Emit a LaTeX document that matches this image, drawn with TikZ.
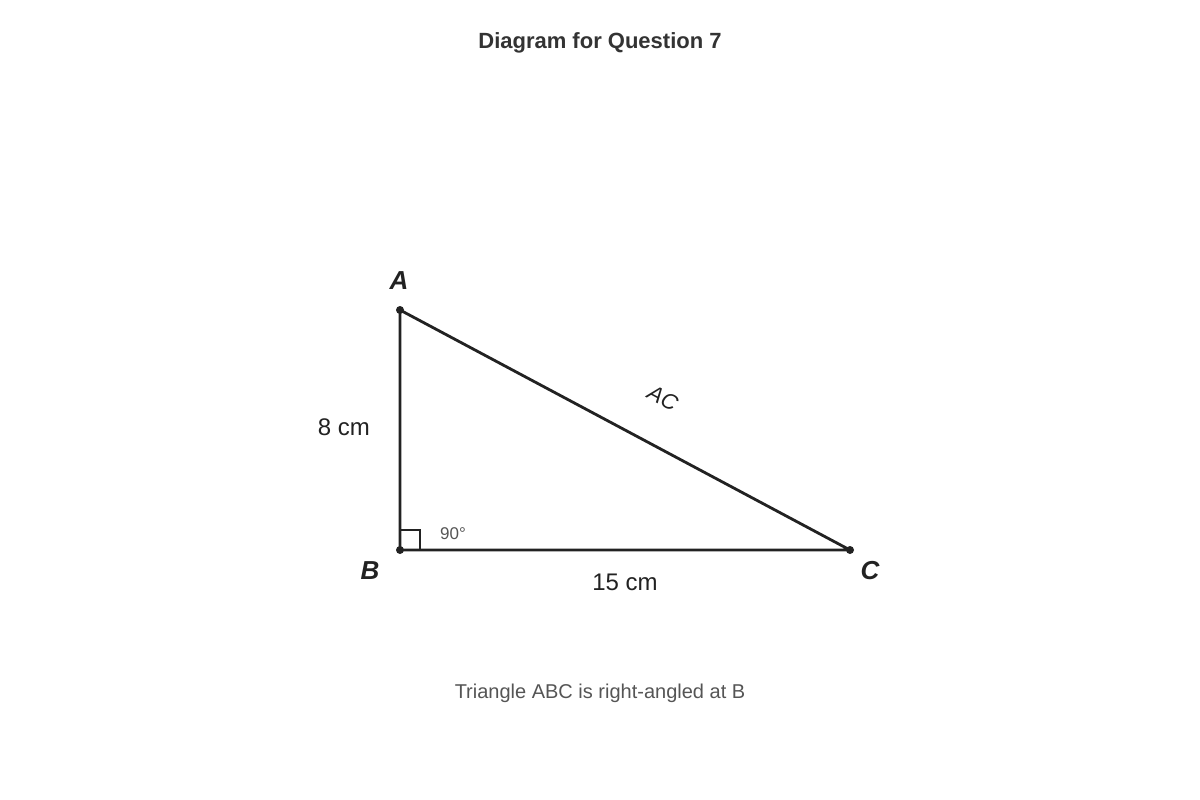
\documentclass[tikz,border=0pt]{standalone}
\usepackage{fontspec}
\setmainfont{Liberation Sans}
\definecolor{ink}{HTML}{222222}
\definecolor{titlec}{HTML}{333333}
\definecolor{greyc}{HTML}{555555}
\begin{document}
\begin{tikzpicture}[x=1pt,y=-1pt,
  edge/.style={draw=ink,line width=2.8pt},
  vtx/.style={circle,fill=ink,inner sep=0pt,minimum size=8pt},
  vlabel/.style={font=\fontsize{26}{30}\selectfont\bfseries\itshape,text=ink,inner sep=0pt},
  dimlabel/.style={font=\fontsize{24}{28}\selectfont,text=ink,inner sep=0pt},
  small/.style={font=\fontsize{17}{20}\selectfont,text=greyc,inner sep=0pt}]
\useasboundingbox[fill=white] (0,0) rectangle (1200,800);
\node[font=\fontsize{22}{26}\selectfont\bfseries,text=titlec,inner sep=0pt] (title) at (600,43) {Diagram for Question 7};
\coordinate (A) at (400,310);
\coordinate (B) at (400,550);
\coordinate (C) at (850,550);
\draw[edge,line join=round] (A) -- (B) -- (C) -- cycle;
\draw[draw=ink,line width=2pt] (400,530) -- (420,530) -- (420,550);
\node[vtx] (dA) at (A) {};
\node[vtx] (dB) at (B) {};
\node[vtx] (dC) at (C) {};
\node[vlabel] (lA) at (399,281) {A};
\node[vlabel] (lB) at (370,571) {B};
\node[vlabel] (lC) at (870,571) {C};
\node[dimlabel] (l8) at (344,427) {8 cm};
\node[dimlabel] (l15) at (625,582) {15 cm};
\node[small] (l90) at (453,534) {90°};
\node[font=\fontsize{22}{26}\selectfont\itshape,text=ink,inner sep=0pt,rotate=-28] (lAC) at (663,398) {AC};
\node[font=\fontsize{20}{24}\selectfont,text=greyc,inner sep=0pt] (cap) at (600,693) {Triangle ABC is right-angled at B};
\end{tikzpicture}
\end{document}
